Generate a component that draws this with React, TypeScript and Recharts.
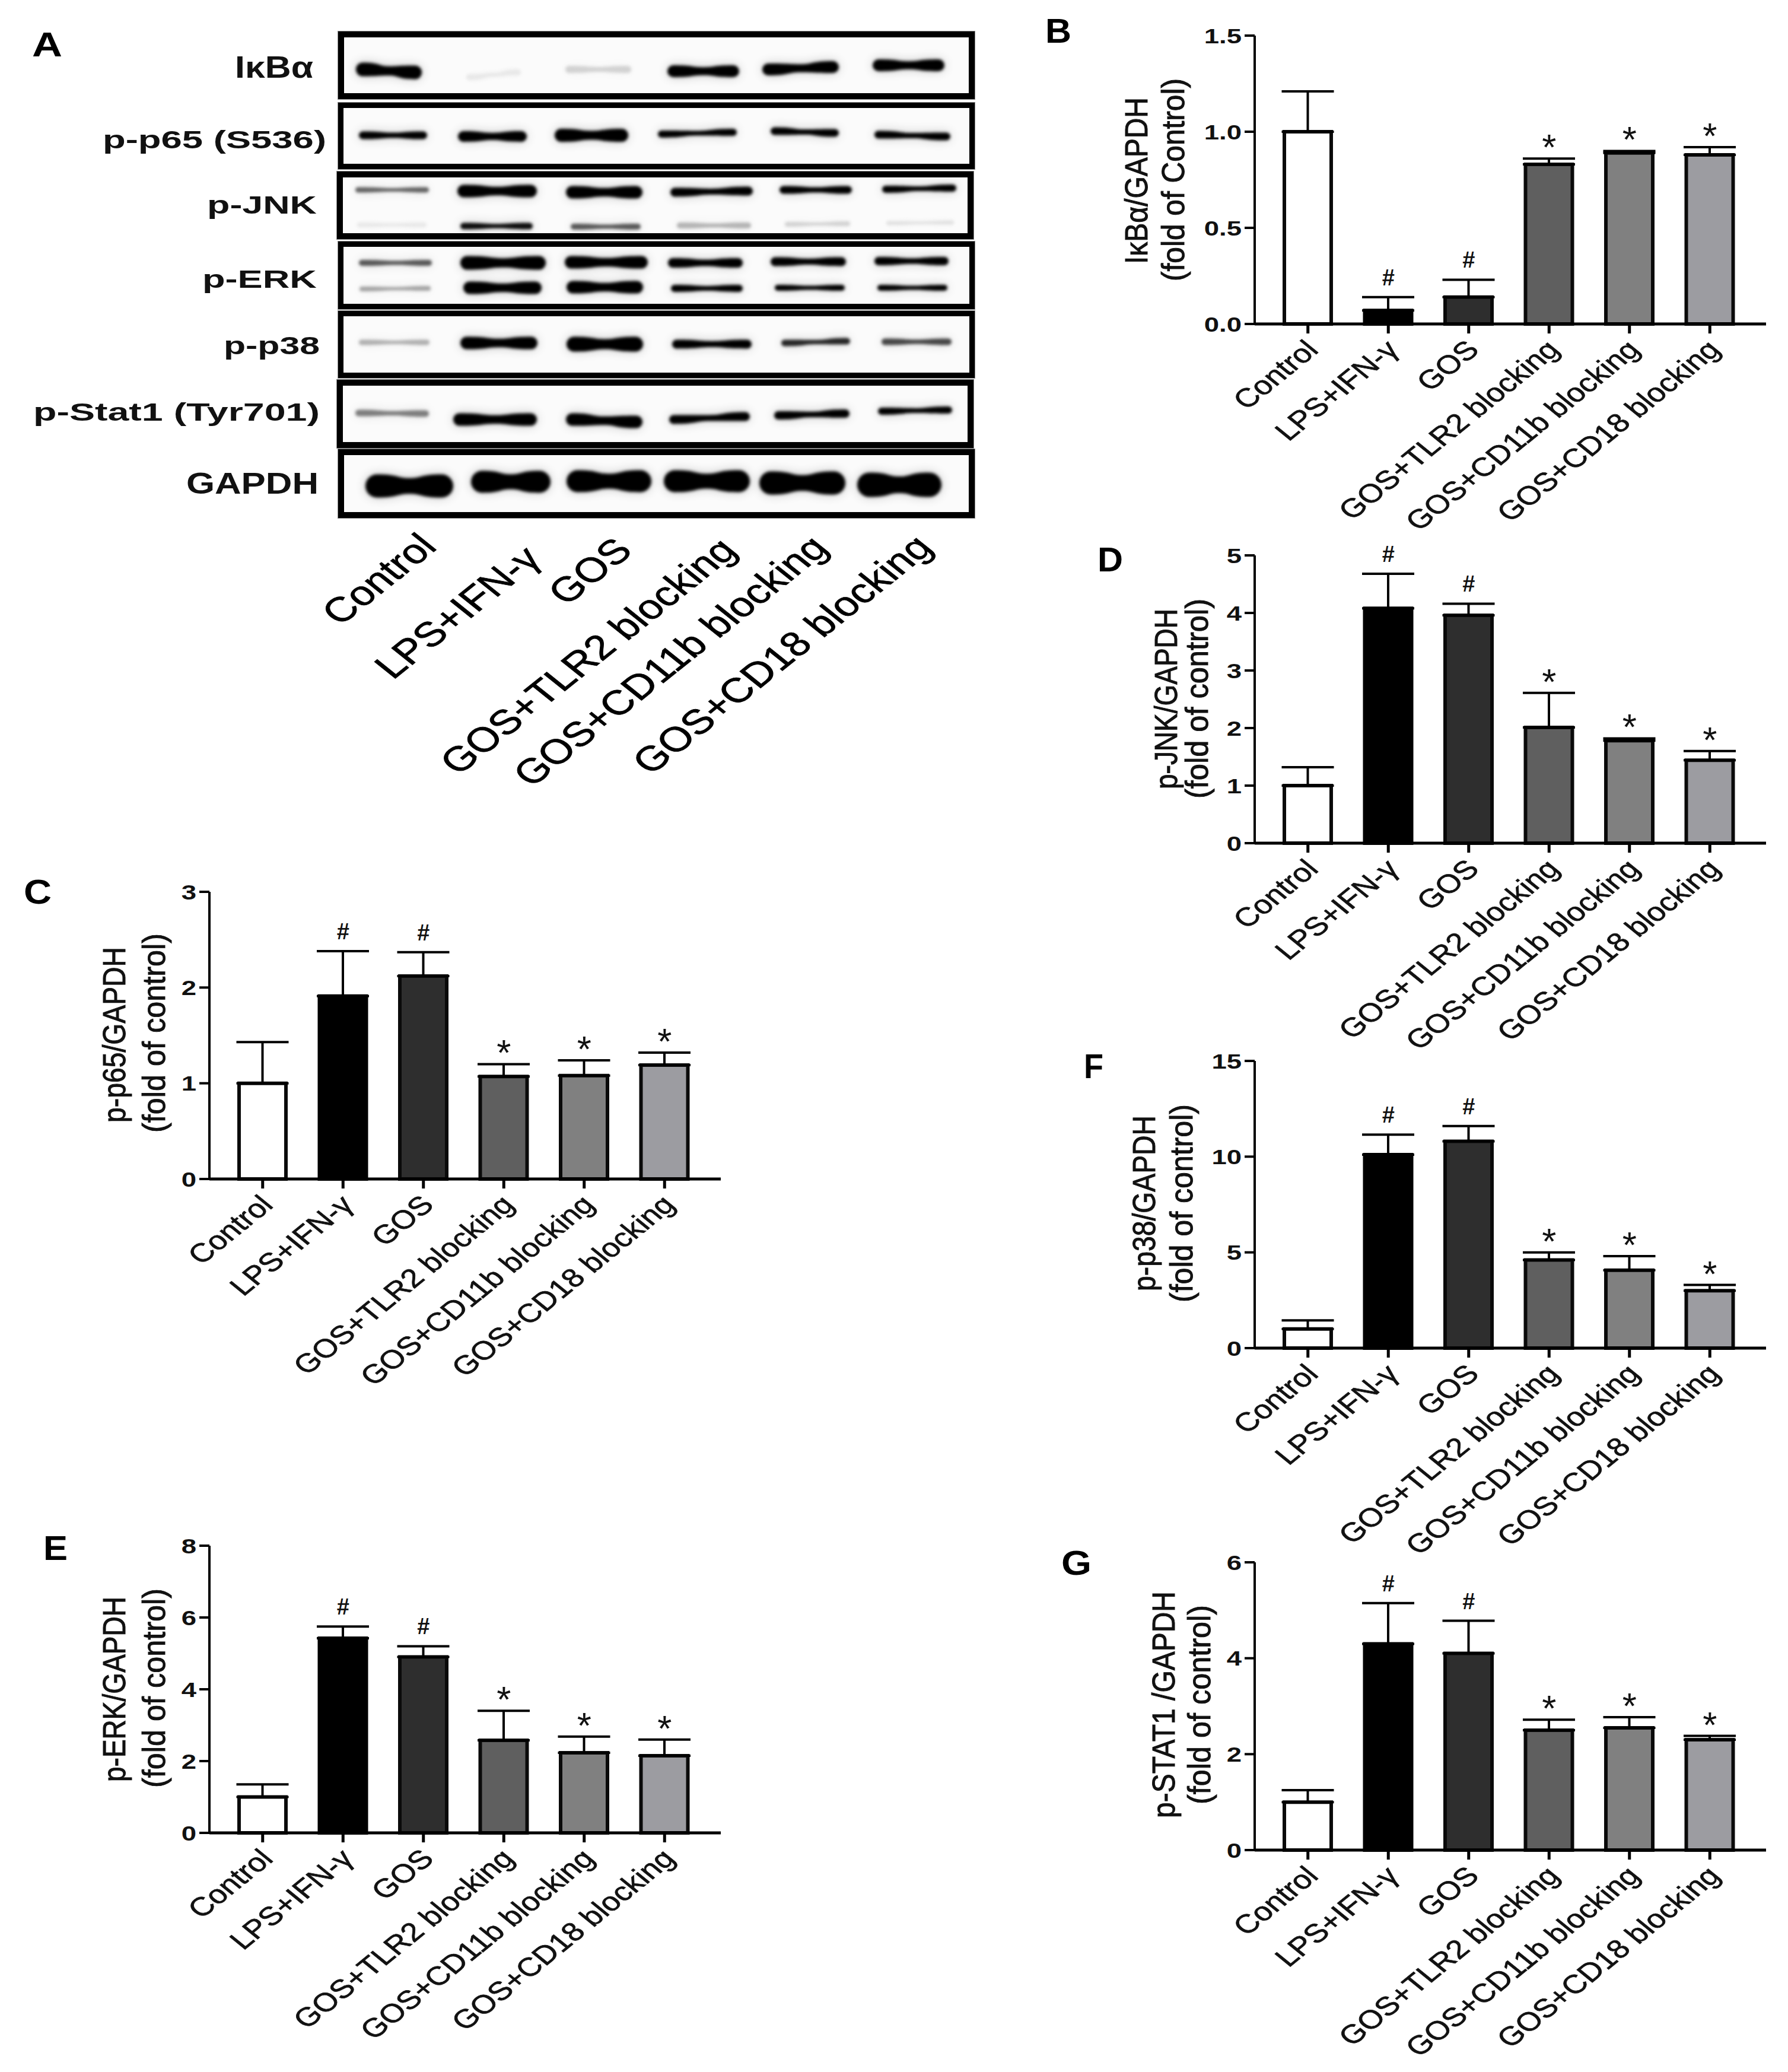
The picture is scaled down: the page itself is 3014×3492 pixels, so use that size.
import { ComposedChart, ScatterChart, Scatter, Bar, Line, Cell, ErrorBar, XAxis, YAxis } from 'recharts';

const FONT = '"Liberation Sans", Arial, sans-serif';

// bar panels
const categories = ['Control', 'LPS+IFN-γ', 'GOS', 'GOS+TLR2 blocking', 'GOS+CD11b blocking', 'GOS+CD18 blocking'];
const barFills = ['#ffffff', '#000000', '#2e2e2e', '#5f5f5f', '#808080', '#9c9ca1'];
const marks = ['', '#', '#', '*', '*', '*'];

const bValues = [1.0, 0.07, 0.14, 0.83, 0.89, 0.88];
const bErrors = [0.21, 0.07, 0.09, 0.03, 0.01, 0.04];
const bTicks = [0, 0.5, 1, 1.5];

const cValues = [1.0, 1.91, 2.12, 1.07, 1.08, 1.19];
const cErrors = [0.43, 0.47, 0.25, 0.13, 0.16, 0.13];
const cTicks = [0, 1, 2, 3];

const dValues = [1.0, 4.08, 3.96, 2.01, 1.78, 1.44];
const dErrors = [0.32, 0.6, 0.2, 0.6, 0.04, 0.16];
const dTicks = [0, 1, 2, 3, 4, 5];

const eValues = [1.0, 5.42, 4.9, 2.58, 2.23, 2.15];
const eErrors = [0.35, 0.33, 0.3, 0.82, 0.45, 0.45];
const eTicks = [0, 2, 4, 6, 8];

const fValues = [1.0, 10.1, 10.8, 4.6, 4.07, 3.0];
const fErrors = [0.45, 1.05, 0.8, 0.4, 0.73, 0.3];
const fTicks = [0, 5, 10, 15];

const gValues = [1.0, 4.3, 4.1, 2.5, 2.55, 2.3];
const gErrors = [0.25, 0.85, 0.68, 0.22, 0.22, 0.08];
const gTicks = [0, 2, 4, 6];

const panels = [
  { id: 'B', values: bValues, errors: bErrors, ticks: bTicks, digits: 1, axisX: 2115, top: 60, zero: 546 },
  { id: 'C', values: cValues, errors: cErrors, ticks: cTicks, digits: 0, axisX: 353, top: 1503, zero: 1987 },
  { id: 'D', values: dValues, errors: dErrors, ticks: dTicks, digits: 0, axisX: 2115, top: 936, zero: 1421 },
  { id: 'E', values: eValues, errors: eErrors, ticks: eTicks, digits: 0, axisX: 353, top: 2605, zero: 3089 },
  { id: 'F', values: fValues, errors: fErrors, ticks: fTicks, digits: 0, axisX: 2115, top: 1788, zero: 2272 },
  { id: 'G', values: gValues, errors: gErrors, ticks: gTicks, digits: 0, axisX: 2115, top: 2633, zero: 3118 },
];

// y titles: text, baseline x, top, bottom
const yTitles: [string, number, number, number][] = [
  ['IκBα/GAPDH', 1934, 164, 445],
  ['(fold of Control)', 1996, 132, 474],
  ['p-p65/GAPDH', 211, 1596, 1892],
  ['(fold of control)', 278, 1573, 1909],
  ['p-JNK/GAPDH', 1984, 1026, 1330],
  ['(fold of control)', 2036, 1009, 1346],
  ['p-ERK/GAPDH', 211, 2691, 3003],
  ['(fold of control)', 278, 2677, 3013],
  ['p-p38/GAPDH', 1947, 1880, 2176],
  ['(fold of control)', 2010, 1861, 2195],
  ['p-STAT1 /GAPDH', 1980, 2682, 3064],
  ['(fold of control)', 2040, 2705, 3041],
];

const panelLetters: [string, number, number, number][] = [
  ['A', 54, 95, 51],
  ['B', 1762, 72, 44],
  ['C', 40, 1523, 47],
  ['D', 1850, 963, 43],
  ['E', 73, 2629, 41],
  ['F', 1827, 1817, 33],
  ['G', 1789, 2654, 51],
];

// blot labels: text, left, baseline, width, size
const blotLabels: [string, number, number, number, number][] = [
  ['IκBα', 396, 131, 132, 52],
  ['p-p65 (S536)', 173, 250, 377, 42],
  ['p-JNK', 349, 360, 185, 42],
  ['p-ERK', 341, 485, 193, 42],
  ['p-p38', 377, 597, 162, 42],
  ['p-Stat1 (Tyr701)', 56, 709, 483, 42],
  ['GAPDH', 314, 832, 223, 50],
];

// end of each rotated lane label under the blot
const laneLabelEnds: [number, number][] = [
  [739, 924],
  [915, 945],
  [1069, 931],
  [1245, 931],
  [1399, 927],
  [1575, 926],
];

// one band: left, right, migration left, migration right, thickness, density
type Band = [number, number, number, number, number, number];

const ikbaBands: Band[] = [
  [20, 131, 54, 59, 23, 1],
  [206, 298, 67, 59, 10, 0.07],
  [373, 484, 54, 54, 12, 0.16],
  [545, 666, 57, 57, 20, 1],
  [705, 834, 54, 50, 20, 1],
  [891, 1012, 47, 47, 20, 1],
];
const p65Bands: Band[] = [
  [26, 141, 46, 46, 13, 1],
  [193, 309, 48, 48, 18, 1],
  [356, 480, 46, 46, 22, 1],
  [530, 663, 44, 41, 12, 1],
  [720, 835, 39, 42, 13, 1],
  [895, 1023, 45, 48, 13, 1],
];
const jnkBands: Band[] = [
  [21, 145, 21, 21, 9, 0.6],
  [193, 327, 23, 23, 21, 1],
  [376, 505, 25, 25, 21, 1],
  [552, 691, 25, 23, 15, 1],
  [736, 858, 21, 21, 13, 1],
  [909, 1034, 20, 18, 12, 1],
  [24, 141, 80, 80, 8, 0.07],
  [198, 320, 82, 82, 11, 0.95],
  [384, 502, 83, 83, 10, 0.65],
  [563, 688, 81, 81, 10, 0.28],
  [745, 855, 79, 78, 8, 0.16],
  [916, 1030, 77, 76, 7, 0.1],
];
const erkBands: Band[] = [
  [26, 149, 27, 27, 10, 0.65],
  [197, 341, 27, 27, 23, 1],
  [373, 513, 26, 26, 21, 1],
  [547, 673, 27, 27, 16, 1],
  [720, 847, 25, 25, 15, 1],
  [895, 1020, 24, 24, 14, 1],
  [27, 147, 71, 70, 8, 0.35],
  [202, 334, 69, 69, 21, 1],
  [376, 505, 68, 68, 21, 1],
  [552, 673, 70, 70, 12, 1],
  [727, 845, 69, 69, 10, 1],
  [900, 1018, 69, 69, 10, 1],
];
const p38Bands: Band[] = [
  [26, 145, 44, 44, 9, 0.3],
  [197, 327, 45, 45, 21, 1],
  [376, 505, 47, 47, 25, 1],
  [554, 688, 47, 47, 15, 1],
  [738, 854, 45, 42, 11, 0.85],
  [907, 1025, 43, 43, 11, 0.72],
];
const stat1Bands: Band[] = [
  [21, 145, 46, 47, 11, 0.5],
  [186, 327, 57, 57, 21, 1],
  [376, 505, 57, 61, 21, 1],
  [550, 686, 57, 52, 15, 1],
  [727, 854, 50, 47, 14, 1],
  [902, 1027, 43, 41, 12, 1],
];
const gapdhBands: Band[] = [
  [36, 184, 52, 52, 39, 1],
  [214, 348, 45, 45, 37, 1],
  [375, 518, 44, 44, 37, 1],
  [539, 684, 44, 44, 37, 1],
  [700, 845, 47, 47, 39, 1],
  [865, 1007, 50, 50, 41, 1],
];

const blotRows = [
  { bands: ikbaBands, x: 570, y: 53, w: 1073, h: 114, b: 10 },
  { bands: p65Bands, x: 570, y: 173, w: 1073, h: 112, b: 9 },
  { bands: jnkBands, x: 568, y: 289, w: 1073, h: 114, b: 10 },
  { bands: erkBands, x: 570, y: 407, w: 1073, h: 114, b: 9 },
  { bands: p38Bands, x: 570, y: 524, w: 1073, h: 113, b: 9 },
  { bands: stat1Bands, x: 568, y: 640, w: 1073, h: 115, b: 10 },
  { bands: gapdhBands, x: 570, y: 757, w: 1073, h: 116, b: 10 },
];

const BandShape = (props: any) => {
  const { cx, cy, payload } = props;
  const { l, r, yl, yr, t, ink } = payload;
  const rad = t / 2;
  const half = (r - l) / 2;
  const a = cx - half + rad;
  const b = cx + half - rad;
  const dy = (yr - yl) / 2;
  const ya = cy - dy;
  const yb = cy + dy;
  const w = rad * 0.68;
  const third = (b - a) / 3;
  const d = `M${a},${ya - rad} C${a + third},${ya - rad} ${cx - third * 0.6},${cy - w} ${cx},${cy - w} S${b - third},${yb - rad} ${b},${yb - rad} A${rad},${rad} 0 0 1 ${b},${yb + rad} C${b - third},${yb + rad} ${cx + third * 0.6},${cy + w} ${cx},${cy + w} S${a + third},${ya + rad} ${a},${ya + rad} A${rad},${rad} 0 0 1 ${a},${ya - rad} Z`;
  const v = Math.round(250 * (1 - ink));
  return (
    <g>
      <path d={d} fill="#000" opacity={0.22 * ink} style={{ filter: 'blur(9px)' }} />
      <path d={d} fill={`rgb(${v},${v},${v})`} style={{ filter: 'blur(2.6px)' }} />
    </g>
  );
};

const BlotRow = ({ row }: { row: (typeof blotRows)[number] }) => {
  const iw = row.w - row.b * 2;
  const ih = row.h - row.b * 2;
  const data = row.bands.map(([l, r, yl, yr, t, ink]) => ({ x: (l + r) / 2, y: (yl + yr) / 2, l, r, yl, yr, t, ink }));
  return (
    <div
      style={{
        position: 'absolute',
        left: row.x,
        top: row.y,
        width: iw,
        height: ih,
        border: `${row.b}px solid #000`,
        outline: '1px solid #888',
        background: '#fbfbfb',
      }}
    >
      <ScatterChart width={iw} height={ih} margin={{ top: 0, right: 0, bottom: 0, left: 0 }}>
        <XAxis type="number" dataKey="x" domain={[0, iw]} hide />
        <YAxis type="number" dataKey="y" domain={[0, ih]} reversed hide />
        <Scatter data={data} shape={BandShape} isAnimationActive={false} />
      </ScatterChart>
    </div>
  );
};

const CategoryTick = ({ x, y, payload }: any) => (
  <g transform={`translate(${x + 20},${y + 30}) scale(1.23,1) rotate(-45)`}>
    <text textAnchor="end" fontFamily={FONT} fontSize={44} fill="#111" stroke="#111" strokeWidth={0.7}>
      {payload.value}
    </text>
  </g>
);

const MarkLabel = ({ x, y, index }: any) => {
  const m = marks[index];
  if (!m) return null;
  if (m === '#') {
    return (
      <text x={x} y={y - 20} textAnchor="middle" fontFamily={FONT} fontWeight="bold" fontSize={38} fill="#111">
        #
      </text>
    );
  }
  return (
    <text x={x} y={y + 2} textAnchor="middle" fontFamily={FONT} fontSize={62} fill="#111">
      *
    </text>
  );
};

const BarPanel = ({ panel }: { panel: (typeof panels)[number] }) => {
  const plotH = panel.zero - panel.top;
  const xAxisH = 370;
  const data = categories.map((name, i) => ({
    name,
    value: panel.values[i],
    err: [0, panel.errors[i]],
    cap: panel.values[i] + panel.errors[i],
  }));
  const ValueTick = ({ x, y, payload }: any) => (
    <g transform={`translate(${x},${y}) scale(1.3,1)`}>
      <text textAnchor="end" dy="0.36em" fontFamily={FONT} fontWeight="bold" fontSize={35} fill="#111">
        {payload.value.toFixed(panel.digits)}
      </text>
    </g>
  );
  return (
    <div style={{ position: 'absolute', left: panel.axisX - 120, top: panel.top - 30 }}>
      <ComposedChart
        width={120 + 862 + 10}
        height={30 + plotH + xAxisH}
        data={data}
        margin={{ top: 30, right: 10, bottom: 0, left: 0 }}
      >
        <XAxis
          dataKey="name"
          interval={0}
          height={xAxisH}
          padding={{ left: 22, right: 27 }}
          axisLine={{ stroke: '#000', strokeWidth: 5 }}
          tickLine={{ stroke: '#000', strokeWidth: 5 }}
          tickSize={16}
          tickMargin={0}
          tick={<CategoryTick />}
        />
        <YAxis
          width={120}
          domain={[0, panel.ticks[panel.ticks.length - 1]]}
          ticks={panel.ticks}
          interval={0}
          axisLine={{ stroke: '#000', strokeWidth: 4 }}
          tickLine={{ stroke: '#000', strokeWidth: 4 }}
          tickSize={17}
          tickMargin={5}
          tick={<ValueTick />}
        />
        <Bar dataKey="value" barSize={79} stroke="#000" strokeWidth={6} isAnimationActive={false}>
          {data.map((d, i) => (
            <Cell key={d.name} fill={barFills[i]} stroke={i === 1 ? '#000' : '#0a0a0a'} />
          ))}
          <ErrorBar dataKey="err" direction="y" width={44} stroke="#000" strokeWidth={4} isAnimationActive={false} />
        </Bar>
        <Line dataKey="cap" stroke="none" dot={false} label={<MarkLabel />} isAnimationActive={false} />
      </ComposedChart>
    </div>
  );
};

const TextLayer = () => (
  <svg width={3014} height={3492} style={{ position: 'absolute', left: 0, top: 0 }}>
    {panelLetters.map(([t, x, y, w]) => (
      <text key={t} x={x} y={y} fontFamily={FONT} fontWeight="bold" fontSize={58} textLength={w} lengthAdjust="spacingAndGlyphs" fill="#000">
        {t}
      </text>
    ))}
    {blotLabels.map(([t, x, y, w, s]) => (
      <text key={t} x={x} y={y} fontFamily={FONT} fontWeight="bold" fontSize={s} textLength={w} lengthAdjust="spacingAndGlyphs" fill="#111">
        {t}
      </text>
    ))}
    {categories.map((c, i) => (
      <g key={c} transform={`translate(${laneLabelEnds[i][0]},${laneLabelEnds[i][1]}) scale(1.253,1) rotate(-45)`}>
        <text textAnchor="end" fontFamily={FONT} fontSize={58} fill="#000" stroke="#000" strokeWidth={0.8}>
          {c}
        </text>
      </g>
    ))}
    {yTitles.map(([t, x, top, bottom]) => (
      <text
        key={`${t}${x}${top}`}
        transform={`translate(${x},${bottom}) rotate(-90)`}
        fontFamily={FONT}
        fontSize={54}
        textLength={bottom - top}
        lengthAdjust="spacingAndGlyphs"
        fill="#111"
        stroke="#111"
        strokeWidth={1}
      >
        {t}
      </text>
    ))}
  </svg>
);

export default function App() {
  return (
    <div style={{ position: 'absolute', left: 0, top: 0, width: 3014, height: 3492, background: '#fff', overflow: 'hidden' }}>
      <TextLayer />
      {blotRows.map((row, i) => (
        <BlotRow key={i} row={row} />
      ))}
      {panels.map((p) => (
        <BarPanel key={p.id} panel={p} />
      ))}
    </div>
  );
}
